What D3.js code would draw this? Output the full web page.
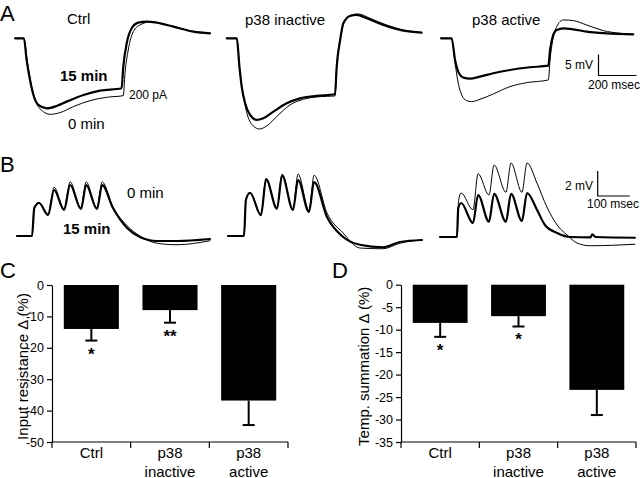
<!DOCTYPE html>
<html><head><meta charset="utf-8">
<script src="https://cdn.jsdelivr.net/npm/d3@7"></script>
<style>
body{margin:0;background:#fff}
svg{display:block}
text{font-family:"Liberation Sans",Arial,Helvetica,sans-serif;fill:#000}
</style>
</head><body>
<svg id="c" width="640" height="478"></svg>
<script>
// ===== Panel A: voltage responses to -200 pA step (time ms, voltage mV re baseline)
const aCtrl15T = [0,47,61,79,97,123,167,219,272,360,447,561,570,588,614,649,693,746,833,939,1026];
const aCtrl15V = [0,0,-5.16,-9.92,-13.49,-15.87,-16.67,-16.11,-15.08,-13.49,-12.46,-11.9,-6.75,-1.19,2.38,3.73,3.97,3.73,2.78,1.59,1.19];
const aCtrl0T  = [0,47,65,88,114,149,184,237,307,395,482,570,579,596,623,658,719,763,851,939,1026];
const aCtrl0V  = [0,0,-5.56,-11.51,-15.48,-17.46,-18.1,-17.7,-16.27,-14.84,-14.05,-13.65,-8.33,-2.78,1.59,3.17,3.97,3.57,2.62,1.59,1.19];
const aInact15T = [0,53,67,79,97,123,158,193,246,316,386,474,570,579,597,614,649,684,737,825,930,1026];
const aInact15V = [0,0,-6.75,-11.51,-15.48,-18.25,-19.44,-19.05,-17.46,-15.48,-14.29,-13.73,-13.33,-6.75,-0.4,3.57,5.32,5.56,4.76,3.17,1.83,1.35];
const aInact0T  = [0,53,70,88,109,140,172,211,263,333,404,491,570,579,600,623,658,693,754,842,930,1026];
const aInact0V  = [0,0,-8.33,-13.89,-18.25,-20.87,-21.59,-20.87,-18.65,-15.87,-14.52,-13.89,-13.73,-6.75,0.4,4.37,5.56,5.79,4.76,3.17,1.98,1.35];
const aAct15T = [0,56,74,91,118,153,205,275,363,468,565,574,588,609,644,697,767,872,1012];
const aAct15V = [0,0,-5.16,-7.94,-9.37,-9.6,-9.13,-8.33,-7.54,-6.9,-6.51,-2.78,0.4,1.98,2.38,2.14,1.59,1.19,0.95];
const aAct0T  = [0,56,74,91,109,135,161,205,275,363,451,565,574,588,609,644,697,767,854,942,1012];
const aAct0V  = [0,0,-5.95,-10.71,-13.49,-14.84,-15.08,-14.52,-13.25,-11.51,-10.56,-9.92,-5.16,-0.4,2.78,4.37,4.21,3.17,1.83,1.19,0.95];

// ===== Panel B: EPSP trains (time ms, voltage mV re baseline)
const bCtrlT   = [0,47,54,69,97,116,147,166,200,216,250,266,300,344,384,438,500,603];
const bCtrl15V = [0,0,2.24,2.64,1.68,3.68,2.08,4.08,2.16,4.08,2.16,4.08,2.24,0.64,-0.08,-0.4,-0.4,-0.24];
const bCtrl0V  = [0,0,2.3,2.69,1.73,3.9,2.18,4.32,2.24,4.32,2.24,4.32,2.3,0.83,0,-0.58,-0.7,-0.38];
const bInactT   = [0,50,56,69,103,119,153,169,203,219,253,269,309,359,412,484,537,606];
const bInact15V = [0,0,2.9,3.46,1.66,4.54,2.18,4.86,2.08,4.48,1.92,4.32,1.54,-0.06,-0.7,-0.9,-0.48,-0.32];
const bInact0V  = [0,0,2.9,3.46,1.73,4.61,2.24,4.93,2.18,4.96,2.05,4.86,1.86,0.26,-0.96,-1.02,-0.58,-0.32];
const bAct15T = [0,53,57,66,103,119,153,169,206,222,256,272,303,328,366,406,470,476,486,609];
const bAct15V = [0,0,2.3,2.72,1.12,3.36,1.22,3.46,1.22,3.46,1.28,3.52,2.18,0.96,0.32,0,-0.03,0.22,0,-0.06];
const bAct0T  = [0,53,58,66,103,119,153,169,206,222,256,272,303,334,366,397,428,469,609];
const bAct0V  = [0,0,2.9,3.52,2.18,5.06,3.36,5.76,3.58,5.92,3.58,5.92,4.32,2.4,0.96,0.16,-0.48,-0.7,-0.58];

// ===== Panels C & D: bar charts
const categories = ["Ctrl", "p38 inactive", "p38 active"];
const inputResMean = [-14, -8, -36.8];
const inputResErr  = [3.7, 4, 7.8];
const inputResStars = ["*", "**", ""];
const inputResTicks = [0, -10, -20, -30, -40, -50];
const tempSumMean = [-8.5, -7, -23.4];
const tempSumErr  = [3.1, 2.3, 5.6];
const tempSumStars = ["*", "*", ""];
const tempSumTicks = [0, -5, -10, -15, -20, -25, -30, -35];

const svg = d3.select("#c");
svg.append("rect").attr("width",640).attr("height",478).attr("fill","#fff");

function txt(x, y, s, size, opts={}) {
  return svg.append("text").attr("x",x).attr("y",y).text(s)
    .attr("font-size",size).attr("font-weight",opts.bold?"bold":"normal")
    .attr("text-anchor",opts.anchor||"start");
}

// ---- trace drawing
function drawTrace(T, V, x0, y0, pxPerMs, pxPerMv, width) {
  const x = d3.scaleLinear().domain([0,1]).range([x0, x0+pxPerMs]);
  const y = d3.scaleLinear().domain([0,1]).range([y0, y0-pxPerMv]);
  const line = d3.line().x(d=>x(d[0])).y(d=>y(d[1])).curve(d3.curveMonotoneX);
  svg.append("path").datum(T.map((t,i)=>[t,V[i]]))
    .attr("d", line).attr("fill","none").attr("stroke","#000")
    .attr("stroke-width", width).attr("stroke-linejoin","round").attr("stroke-linecap","round");
}
const A_MS = 0.19, A_MV = 4.2, A_Y0 = 38.3;
const aPanels = [
  {x0:15, t15:aCtrl15T, v15:aCtrl15V, t0:aCtrl0T, v0:aCtrl0V},
  {x0:226.7, t15:aInact15T, v15:aInact15V, t0:aInact0T, v0:aInact0V},
  {x0:441, t15:aAct15T, v15:aAct15V, t0:aAct0T, v0:aAct0V}
];
aPanels.forEach(p=>{
  drawTrace(p.t0, p.v0, p.x0, A_Y0, A_MS, A_MV, 1.0);
  drawTrace(p.t15, p.v15, p.x0, A_Y0, A_MS, A_MV, 2.2);
});
const B_MS = 0.32, B_MV = 12.5;
const bPanels = [
  {x0:17, y0:236, t15:bCtrlT, v15:bCtrl15V, t0:bCtrlT, v0:bCtrl0V},
  {x0:228, y0:236, t15:bInactT, v15:bInact15V, t0:bInactT, v0:bInact0V},
  {x0:440, y0:237, t15:bAct15T, v15:bAct15V, t0:bAct0T, v0:bAct0V}
];
bPanels.forEach(p=>{
  drawTrace(p.t0, p.v0, p.x0, p.y0, B_MS, B_MV, 1.0);
  drawTrace(p.t15, p.v15, p.x0, p.y0, B_MS, B_MV, 2.2);
});

// scale bars
function scaleBar(x, yBottom, ms, mv, pxPerMs, pxPerMv) {
  const h = mv*pxPerMv, w = ms*pxPerMs;
  svg.append("path").attr("d",`M${x},${yBottom-h}V${yBottom}H${x+w}`)
    .attr("fill","none").attr("stroke","#000").attr("stroke-width",1.2);
}
scaleBar(598.5, 75.5, 200, 5, A_MS, A_MV);
scaleBar(597.7, 196, 100, 2, B_MS, B_MV);
txt(593, 69, "5 mV", 12, {anchor:"end"});
txt(588, 89, "200 msec", 12);
txt(593, 190, "2 mV", 12, {anchor:"end"});
txt(587, 208, "100 msec", 12);

// panel A/B texts
txt(67, 24, "Ctrl", 15);
txt(245, 25, "p38 inactive", 15);
txt(472, 25, "p38 active", 15);
txt(60, 81, "15 min", 15, {bold:true});
txt(68, 129, "0 min", 15);
txt(129, 99, "200 pA", 12);
txt(127, 198, "0 min", 15);
txt(63, 234, "15 min", 15, {bold:true});

// panel letters
txt(0, 21, "A", 22);
txt(0, 172, "B", 22);
txt(0, 278, "C", 22);
txt(332, 278, "D", 22);

// ---- bar charts
function barPanel(o) {
  const g = svg.append("g");
  const x = d3.scaleBand().domain(categories).range([o.x0, o.x1]).paddingInner(0.3).paddingOuter(0.15);
  const y = d3.scaleLinear().domain([0, o.min]).range([o.yTop, o.yBot]);
  const yAxis = d3.axisLeft(y).tickValues(o.ticks).tickSize(5).tickSizeOuter(0).tickPadding(3)
    .tickFormat(d=>String(d));
  const ya = g.append("g").attr("transform",`translate(${o.x0},0)`).call(yAxis);
  ya.selectAll("text").attr("font-size",12.5).attr("font-family",null).style("fill","#000");
  ya.selectAll("line,path").attr("stroke","#000").attr("stroke-width",1.2);
  g.append("line").attr("x1",o.x0).attr("x2",o.x1).attr("y1",o.yBot).attr("y2",o.yBot)
    .attr("stroke","#000").attr("stroke-width",1.2);
  const step = (o.x1-o.x0)/categories.length;
  d3.range(categories.length+1).forEach(k=>{
    g.append("line").attr("x1",o.x0+k*step).attr("x2",o.x0+k*step)
      .attr("y1",o.yBot).attr("y2",o.yBot+6).attr("stroke","#000").attr("stroke-width",1.2);
  });
  categories.forEach((c,i)=>{
    const cx = x(c)+x.bandwidth()/2;
    const parts = c.split(" ");
    parts.forEach((p,j)=>{
      g.append("text").attr("x",cx).attr("y",o.yBot+16+j*18.5).attr("text-anchor","middle")
        .attr("font-size",15).text(p);
    });
    g.append("rect").attr("x",x(c)).attr("y",y(0)).attr("width",x.bandwidth())
      .attr("height",y(o.means[i])-y(0)).attr("fill","#000");
    const eb = o.means[i]-o.errs[i];
    g.append("line").attr("x1",cx).attr("x2",cx).attr("y1",y(o.means[i])).attr("y2",y(eb))
      .attr("stroke","#000").attr("stroke-width",2);
    g.append("line").attr("x1",cx-6).attr("x2",cx+6).attr("y1",y(eb)).attr("y2",y(eb))
      .attr("stroke","#000").attr("stroke-width",2);
    if (o.stars[i]) {
      g.append("text").attr("x",cx).attr("y",y(eb)+19).attr("text-anchor","middle")
        .attr("font-size",17).attr("font-weight","bold").text(o.stars[i]);
    }
  });
  g.append("text").attr("transform",`translate(${o.labX},${(o.yTop+o.yBot)/2+3}) rotate(-90)`)
    .attr("text-anchor","middle").attr("font-size",15).text(o.label);
}
barPanel({x0:52, x1:288, yTop:285, yBot:442, min:-50, ticks:inputResTicks,
  means:inputResMean, errs:inputResErr, stars:inputResStars,
  label:"Input resistance \u0394 (%)", labX:28});
barPanel({x0:401, x1:636, yTop:284.7, yBot:442, min:-35, ticks:tempSumTicks,
  means:tempSumMean, errs:tempSumErr, stars:tempSumStars,
  label:"Temp. summation \u0394 (%)", labX:369});
</script>
</body></html>
